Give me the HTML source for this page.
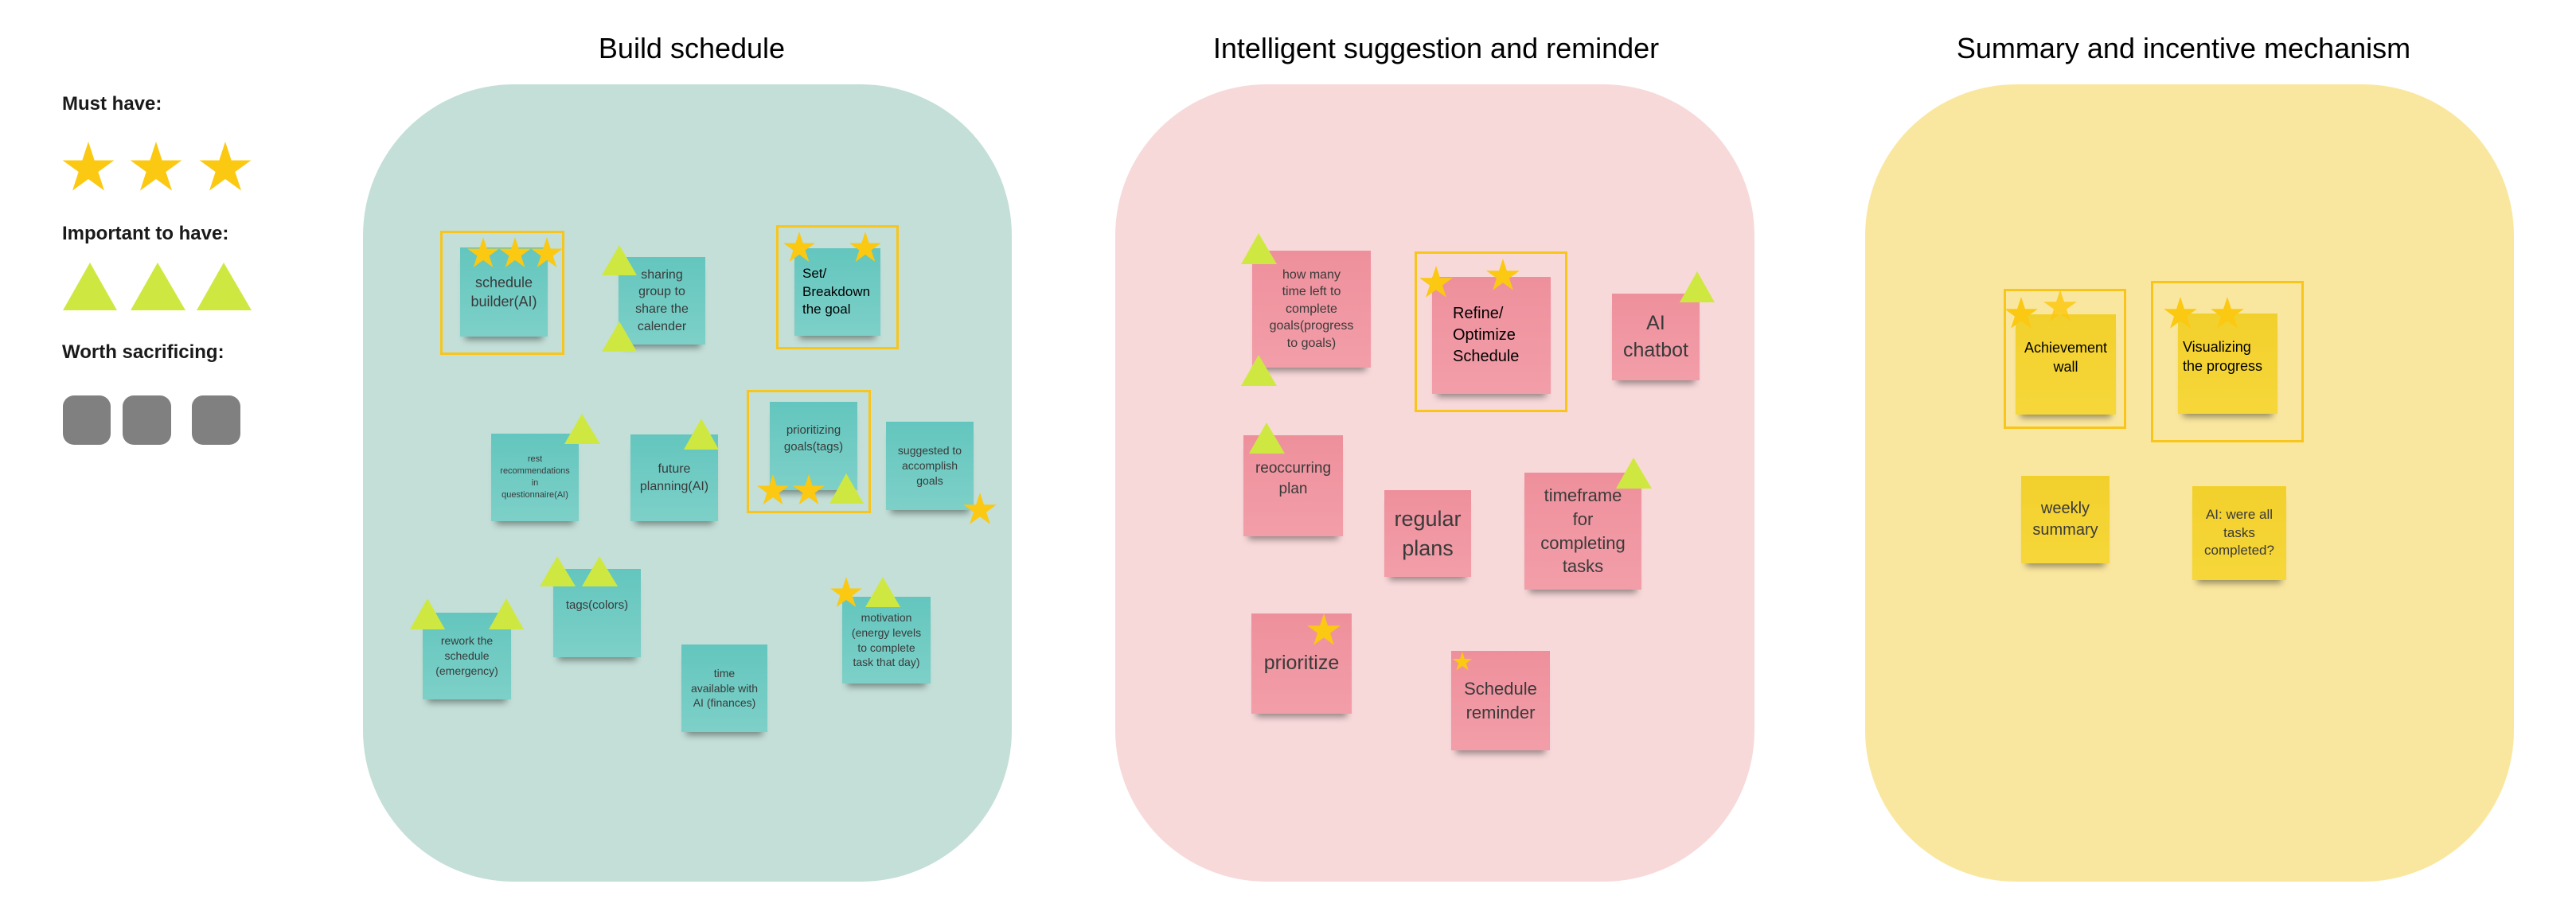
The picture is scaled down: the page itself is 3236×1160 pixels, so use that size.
<!DOCTYPE html>
<html><head><meta charset="utf-8"><style>
*{margin:0;padding:0;box-sizing:border-box}
body{width:3236px;height:1160px;background:#fff;position:relative;overflow:hidden;font-family:"Liberation Sans",sans-serif}
.a{position:absolute}
.lg{font-weight:bold;font-size:24px;color:#1a1a1a;left:78px}
.ti{font-size:36px;color:#000;top:40px;text-align:center;width:900px}
.pn{border-radius:190px}
.n{position:absolute;display:flex;align-items:center;justify-content:center;text-align:center;color:#3a3a3a;box-shadow:0 10px 8px -6px rgba(0,0,0,.4);line-height:1.35;padding:2px;white-space:nowrap}
.t{background:linear-gradient(#63c6be,#7dd0c8)}
.p{background:linear-gradient(#ee909c,#f29ea9)}
.y{background:linear-gradient(#f2d02c,#f6d73a)}
.l{justify-content:flex-start;text-align:left;color:#000;padding-left:14px}
.f{position:absolute;border:3px solid #f8c51c}
</style></head><body>
<div class="a lg" style="top:117px">Must have:</div>
<div class="a lg" style="top:280px">Important to have:</div>
<div class="a lg" style="top:429px">Worth sacrificing:</div>
<div class="a" style="left:79px;top:497px;width:60px;height:62px;background:#808080;border-radius:14px"></div>
<div class="a" style="left:154px;top:497px;width:61px;height:62px;background:#808080;border-radius:14px"></div>
<div class="a" style="left:241px;top:497px;width:61px;height:62px;background:#808080;border-radius:14px"></div>

<div class="a ti" style="left:419px">Build schedule</div>
<div class="a ti" style="left:1354px">Intelligent suggestion and reminder</div>
<div class="a ti" style="left:2293px">Summary and incentive mechanism</div>

<div class="a pn" style="left:456px;top:106px;width:815px;height:1002px;background:#c3dfd7"></div>
<div class="a pn" style="left:1401px;top:106px;width:803px;height:1002px;background:#f8d9da"></div>
<div class="a pn" style="left:2343px;top:106px;width:815px;height:1002px;background:#fae79f"></div>

<div class="f" style="left:553px;top:290px;width:156px;height:156px"></div>
<div class="f" style="left:975px;top:283px;width:154px;height:156px"></div>
<div class="f" style="left:938px;top:490px;width:156px;height:155px"></div>
<div class="f" style="left:1777px;top:316px;width:192px;height:202px"></div>
<div class="f" style="left:2517px;top:363px;width:154px;height:176px"></div>
<div class="f" style="left:2702px;top:353px;width:192px;height:203px"></div>

<div class="n t" style="left:578px;top:311px;width:110px;height:112px;font-size:18px">schedule<br>builder(AI)</div>
<div class="n t" style="left:777px;top:323px;width:109px;height:110px;font-size:16px">sharing<br>group to<br>share the<br>calender</div>
<div class="n t l" style="left:998px;top:312px;width:108px;height:110px;font-size:17px;padding-left:10px">Set/<br>Breakdown<br>the goal</div>
<div class="n t" style="left:617px;top:545px;width:110px;height:110px;font-size:11px">rest<br>recommendations<br>in<br>questionnaire(AI)</div>
<div class="n t" style="left:792px;top:546px;width:110px;height:109px;font-size:16px">future<br>planning(AI)</div>
<div class="n t" style="left:967px;top:505px;width:110px;height:111px;font-size:15px;padding-bottom:20px">prioritizing<br>goals(tags)</div>
<div class="n t" style="left:1113px;top:530px;width:110px;height:111px;font-size:14px">suggested to<br>accomplish<br>goals</div>
<div class="n t" style="left:695px;top:715px;width:110px;height:111px;font-size:15px;padding-bottom:20px">tags(colors)</div>
<div class="n t" style="left:531px;top:770px;width:111px;height:109px;font-size:14px">rework the<br>schedule<br>(emergency)</div>
<div class="n t" style="left:856px;top:810px;width:108px;height:110px;font-size:14px">time<br>available with<br>AI (finances)</div>
<div class="n t" style="left:1058px;top:750px;width:111px;height:109px;font-size:14px">motivation<br>(energy levels<br>to complete<br>task that day)</div>

<div class="n p" style="left:1573px;top:315px;width:149px;height:147px;font-size:16px">how many<br>time left to<br>complete<br>goals(progress<br>to goals)</div>
<div class="n p l" style="left:1799px;top:348px;width:149px;height:147px;font-size:20px;padding-left:26px">Refine/<br>Optimize<br>Schedule</div>
<div class="n p" style="left:2025px;top:369px;width:110px;height:109px;font-size:25px">AI<br>chatbot</div>
<div class="n p" style="left:1562px;top:547px;width:125px;height:127px;font-size:19px;padding-bottom:20px">reoccurring<br>plan</div>
<div class="n p" style="left:1739px;top:616px;width:109px;height:109px;font-size:27px">regular<br>plans</div>
<div class="n p" style="left:1915px;top:594px;width:147px;height:147px;font-size:22px">timeframe<br>for<br>completing<br>tasks</div>
<div class="n p" style="left:1572px;top:771px;width:126px;height:126px;font-size:25px">prioritize</div>
<div class="n p" style="left:1823px;top:818px;width:124px;height:125px;font-size:22px">Schedule<br>reminder</div>

<div class="n y" style="left:2532px;top:395px;width:126px;height:126px;font-size:18px;color:#000;padding-bottom:20px">Achievement<br>wall</div>
<div class="n y l" style="left:2736px;top:394px;width:125px;height:126px;font-size:18px;padding-left:6px;padding-bottom:20px">Visualizing<br>the progress</div>
<div class="n y" style="left:2539px;top:598px;width:111px;height:110px;font-size:20px">weekly<br>summary</div>
<div class="n y" style="left:2754px;top:611px;width:118px;height:118px;font-size:17px">AI: were all<br>tasks<br>completed?</div>

<svg class="a" style="left:0;top:0" width="3236" height="1160">
<defs><polygon id="s" fill="#fbc812" points="0,-1 0.225,-0.309 0.951,-0.309 0.363,0.118 0.588,0.809 0,0.382 -0.588,0.809 -0.363,0.118 -0.951,-0.309 -0.225,-0.309"/></defs>
<g fill="#cfe841">
<polygon points="79,390 113,330 147,390"/><polygon points="164,390 198,330 233,390"/><polygon points="247,390 281,330 316,390"/>
<polygon points="756,346 778,308 800,346"/><polygon points="756,442 778,404 800,442"/>
<polygon points="709,558 731,520 754,558"/>
<polygon points="859,565 881,526 903,565"/>
<polygon points="1042,633 1063,595 1085,633"/>
<polygon points="678,737 700,699 723,737"/><polygon points="731,737 753,699 776,737"/>
<polygon points="515,791 537,752 559,791"/><polygon points="614,791 636,752 658,791"/>
<polygon points="1087,763 1109,725 1131,763"/>
<polygon points="1559,332 1581,293 1604,332"/><polygon points="1559,485 1581,446 1604,485"/>
<polygon points="2110,380 2132,341 2154,380"/>
<polygon points="1569,570 1591,531 1614,570"/>
<polygon points="2030,614 2052,575 2075,614"/>
</g>
<use href="#s" transform="translate(111,212) scale(34)"/><use href="#s" transform="translate(196,212) scale(34)"/><use href="#s" transform="translate(283,212) scale(34)"/>
<use href="#s" transform="translate(607,319) scale(21)"/><use href="#s" transform="translate(647,319) scale(21)"/><use href="#s" transform="translate(687,319) scale(21)"/>
<use href="#s" transform="translate(1004,312) scale(21)"/><use href="#s" transform="translate(1087,312) scale(21)"/>
<use href="#s" transform="translate(971,617) scale(21)"/><use href="#s" transform="translate(1016,617) scale(21)"/>
<use href="#s" transform="translate(1231,641) scale(22)"/>
<use href="#s" transform="translate(1063,746) scale(21)"/>
<use href="#s" transform="translate(1804,356) scale(22)"/><use href="#s" transform="translate(1888,347) scale(22)"/>
<use href="#s" transform="translate(1663,793) scale(22)"/>
<use href="#s" transform="translate(1837,832) scale(13)"/>
<use href="#s" transform="translate(2539,395) scale(22)"/><use href="#s" transform="translate(2588,386) scale(22)" opacity="0.85"/>
<use href="#s" transform="translate(2739,395) scale(22)"/><use href="#s" transform="translate(2798,395) scale(22)"/>
</svg>
</body></html>
